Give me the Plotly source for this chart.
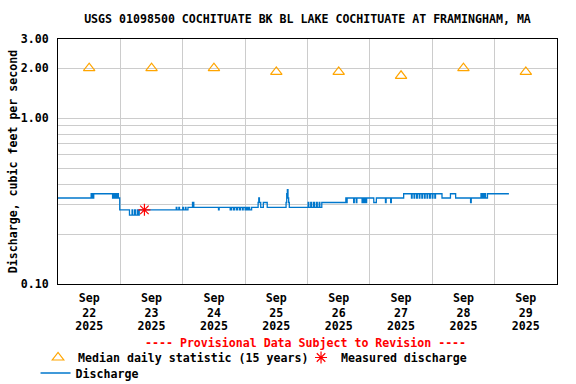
import plotly.graph_objects as go

# ---------------- data ----------------
# Discharge (cfs): change points of the 15-minute record (value holds until next time)
change_times = [
    "2025-09-22 00:00", "2025-09-22 12:45", "2025-09-22 13:00", "2025-09-22 13:15", "2025-09-22 13:30",
    "2025-09-22 13:45", "2025-09-22 21:00", "2025-09-22 21:15", "2025-09-22 21:45", "2025-09-22 22:00",
    "2025-09-22 22:30", "2025-09-22 22:45", "2025-09-22 23:15", "2025-09-22 23:45",
    "2025-09-23 03:30", "2025-09-23 04:30", "2025-09-23 04:45", "2025-09-23 05:30", "2025-09-23 05:45",
    "2025-09-23 06:30", "2025-09-23 06:45", "2025-09-23 07:15", "2025-09-23 21:30", "2025-09-23 21:45",
    "2025-09-23 22:30", "2025-09-23 22:45",
    "2025-09-24 00:00", "2025-09-24 00:15", "2025-09-24 01:00", "2025-09-24 01:15", "2025-09-24 02:00",
    "2025-09-24 03:45", "2025-09-24 04:15", "2025-09-24 13:45", "2025-09-24 14:00", "2025-09-24 18:15",
    "2025-09-24 18:45", "2025-09-24 19:30", "2025-09-24 20:00", "2025-09-24 20:45", "2025-09-24 21:00",
    "2025-09-24 21:45", "2025-09-24 22:15", "2025-09-24 23:00", "2025-09-24 23:15",
    "2025-09-25 00:00", "2025-09-25 00:30", "2025-09-25 01:00", "2025-09-25 01:30", "2025-09-25 01:45",
    "2025-09-25 02:30", "2025-09-25 05:00", "2025-09-25 05:15", "2025-09-25 05:30", "2025-09-25 06:00",
    "2025-09-25 07:00", "2025-09-25 08:30", "2025-09-25 15:45", "2025-09-25 16:00", "2025-09-25 16:15",
    "2025-09-25 16:30", "2025-09-25 16:45", "2025-09-25 17:00",
    "2025-09-26 00:15", "2025-09-26 00:30", "2025-09-26 01:15", "2025-09-26 01:30", "2025-09-26 02:15",
    "2025-09-26 02:45", "2025-09-26 03:30", "2025-09-26 03:45", "2025-09-26 04:30", "2025-09-26 04:45",
    "2025-09-26 05:30", "2025-09-26 14:45", "2025-09-26 15:00", "2025-09-26 15:15", "2025-09-26 17:45",
    "2025-09-26 18:00", "2025-09-26 18:45", "2025-09-26 19:00", "2025-09-26 21:00", "2025-09-26 21:15",
    "2025-09-26 21:45", "2025-09-26 22:00", "2025-09-26 22:30", "2025-09-26 22:45",
    "2025-09-27 01:30", "2025-09-27 02:30", "2025-09-27 06:00", "2025-09-27 06:15", "2025-09-27 08:00",
    "2025-09-27 08:15", "2025-09-27 13:00", "2025-09-27 16:00", "2025-09-27 16:15", "2025-09-27 17:00",
    "2025-09-27 17:15", "2025-09-27 18:00", "2025-09-27 18:15", "2025-09-27 19:00", "2025-09-27 19:15",
    "2025-09-27 20:00", "2025-09-27 20:15", "2025-09-27 21:00", "2025-09-27 21:15", "2025-09-27 22:00",
    "2025-09-27 22:15", "2025-09-27 23:00", "2025-09-27 23:15",
    "2025-09-28 00:00", "2025-09-28 00:15", "2025-09-28 01:00", "2025-09-28 01:15", "2025-09-28 03:45",
    "2025-09-28 07:00", "2025-09-28 09:00", "2025-09-28 14:45", "2025-09-28 15:00", "2025-09-28 18:45",
    "2025-09-28 19:00", "2025-09-28 19:30", "2025-09-28 19:45", "2025-09-28 20:15", "2025-09-28 20:30",
    "2025-09-28 21:15",
    "2025-09-29 05:30",
]
change_values = [
    0.33, 0.35, 0.33, 0.35, 0.33,
    0.35, 0.33, 0.35, 0.33, 0.35,
    0.33, 0.35, 0.33, 0.28,
    0.26, 0.28, 0.26, 0.28, 0.26,
    0.28, 0.26, 0.28, 0.29, 0.28,
    0.29, 0.28,
    0.29, 0.28, 0.29, 0.28, 0.29,
    0.31, 0.29, 0.28, 0.29, 0.28,
    0.29, 0.28, 0.29, 0.28, 0.29,
    0.28, 0.29, 0.28, 0.29,
    0.28, 0.29, 0.28, 0.29, 0.28,
    0.29, 0.31, 0.33, 0.31, 0.29,
    0.31, 0.29, 0.31, 0.35, 0.37,
    0.33, 0.31, 0.29,
    0.31, 0.29, 0.31, 0.29, 0.31,
    0.29, 0.31, 0.29, 0.31, 0.29,
    0.31, 0.33, 0.31, 0.33, 0.31,
    0.33, 0.31, 0.33, 0.31, 0.33,
    0.31, 0.33, 0.31, 0.33,
    0.31, 0.33, 0.31, 0.33, 0.31,
    0.33, 0.35, 0.33, 0.35, 0.33,
    0.35, 0.33, 0.35, 0.33, 0.35,
    0.33, 0.35, 0.33, 0.35, 0.33,
    0.35, 0.33, 0.35,
    0.33, 0.35, 0.33, 0.35, 0.33,
    0.35, 0.33, 0.31, 0.33, 0.35,
    0.33, 0.35, 0.33, 0.35, 0.33,
    0.35,
    0.35,
]

median_dates = ["2025-09-22 12:00", "2025-09-23 12:00", "2025-09-24 12:00", "2025-09-25 12:00",
                "2025-09-26 12:00", "2025-09-27 12:00", "2025-09-28 12:00", "2025-09-29 12:00"]
median_values = [2.0, 2.0, 2.0, 1.9, 1.9, 1.8, 2.0, 1.9]

measured_dates = ["2025-09-23 09:15"]
measured_values = [0.28]

x_tick_vals = median_dates
x_tick_month = ["Sep"] * 8
x_tick_day = ["22", "23", "24", "25", "26", "27", "28", "29"]
x_tick_year = ["2025"] * 8
day_lines = ["2025-09-23", "2025-09-24", "2025-09-25", "2025-09-26",
             "2025-09-27", "2025-09-28", "2025-09-29"]
y_tick_vals = [0.1, 1.0, 2.0, 3.0]
y_tick_text = ["0.10", "1.00", "2.00", "3.00"]
y_minor_vals = [0.2, 0.3, 0.4, 0.5, 0.6, 0.7, 0.8, 0.9]

FONT = "DejaVu Sans Mono"
FS = 11.6
GRID = "#cccccc"
TF = dict(family=FONT, size=FS, color="black", weight="bold")

fig = go.Figure()
fig.add_trace(go.Scatter(
    x=change_times, y=change_values, mode="lines", line_shape="hv",
    name="Discharge", line=dict(color="#0077cc", width=1.3), legend="legend2",
))
fig.add_trace(go.Scatter(
    x=median_dates, y=median_values, mode="markers",
    name="Median daily statistic (15 years)", legendrank=1,
    marker=dict(symbol="triangle-up-open", size=10, color="#ffa500", line=dict(width=1.2, color="#ffa500")),
))
fig.add_trace(go.Scatter(
    x=measured_dates, y=measured_values, mode="markers",
    name="Measured discharge", legendrank=2,
    marker=dict(symbol="asterisk-open", size=10, color="#ff0000", line=dict(width=1.2, color="#ff0000")),
))

fig.update_layout(
    width=576, height=384,
    margin=dict(l=58, r=19, t=39, b=100, autoexpand=False),
    paper_bgcolor="white", plot_bgcolor="white",
    font=TF,
    title=dict(text="USGS 01098500 COCHITUATE BK BL LAKE COCHITUATE AT FRAMINGHAM, MA",
               x=0.5, xref="paper", xanchor="center", y=1 - 19 / 384, yanchor="middle", font=TF),
    showlegend=True,
    legend=dict(orientation="h", x=-0.040, xanchor="left", y=-(343 - 284) / 245, yanchor="top",
                font=TF, itemwidth=30, entrywidthmode="pixels", entrywidth=218,
                bgcolor="rgba(0,0,0,0)"),
    legend2=dict(orientation="h", x=-0.045, xanchor="left", y=-(358.5 - 284) / 245, yanchor="top",
                 font=TF, itemwidth=30, bgcolor="rgba(0,0,0,0)"),
)
axis_common = dict(type="date", range=["2025-09-22", "2025-09-30"], tickmode="array",
                   tickvals=x_tick_vals, showgrid=False, ticks="", zeroline=False,
                   tickangle=0, automargin=False, tickfont=TF)
fig.update_layout(
    xaxis=dict(**axis_common, ticktext=x_tick_month, showline=True, linecolor="black",
               linewidth=1, mirror=True, ticklabelstandoff=3,
               minor=dict(tickmode="array", tickvals=day_lines, showgrid=True,
                          gridcolor=GRID, gridwidth=1, ticks="")),
    xaxis2=dict(**axis_common, ticktext=x_tick_day, overlaying="x", anchor="y", side="bottom",
                showline=False, ticklabelstandoff=20),
    xaxis3=dict(**axis_common, ticktext=x_tick_year, overlaying="x", anchor="y", side="bottom",
                showline=False, ticklabelstandoff=33),
    yaxis=dict(type="log", range=[-1, 0.47712125], tickmode="array", tickvals=y_tick_vals,
               ticktext=y_tick_text, showgrid=True, gridcolor=GRID, gridwidth=1, ticks="",
               showline=True, linecolor="black", linewidth=1, mirror=True, zeroline=False,
               automargin=False, tickfont=TF, ticklabelstandoff=6,
               minor=dict(tickmode="array", tickvals=y_minor_vals, showgrid=True,
                          gridcolor=GRID, gridwidth=1, ticks=""),
               title=dict(text="Discharge, cubic feet per second", standoff=0, font=TF)),
)
# invisible carriers so that the stacked date-label axes are drawn
fig.add_trace(go.Scatter(x=[median_dates[0]], y=[median_values[0]], xaxis="x2", mode="none",
                         showlegend=False, hoverinfo="skip"))
fig.add_trace(go.Scatter(x=[median_dates[0]], y=[median_values[0]], xaxis="x3", mode="none",
                         showlegend=False, hoverinfo="skip"))

fig.add_annotation(
    text="---- Provisional Data Subject to Revision ----",
    xref="paper", yref="paper", x=0.495, y=-(342.5 - 284) / 245, yanchor="middle",
    showarrow=False, font=dict(family=FONT, size=FS, color="#ff0000", weight="bold"),
)

fig.write_html("out.html", config={"displayModeBar": False},
               post_script="document.body.style.margin='0px';")
